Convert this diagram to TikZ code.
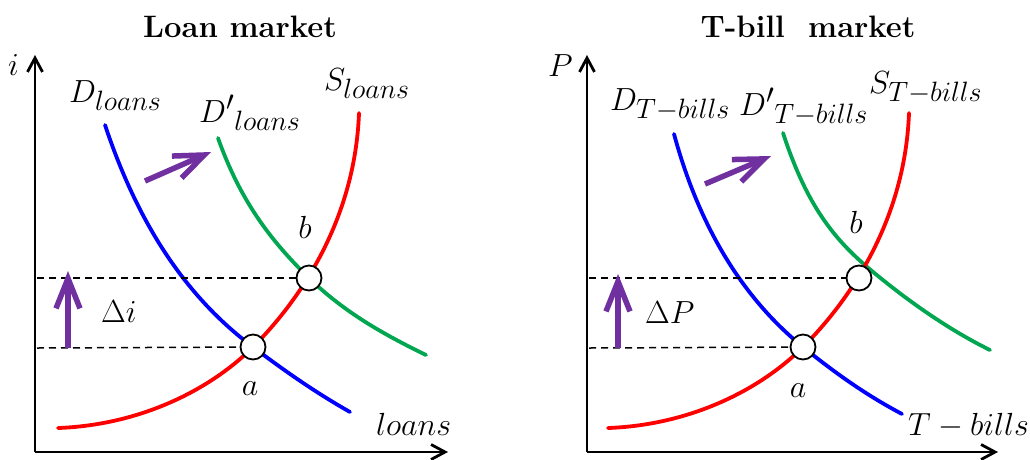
\RequirePackage{fix-cm}
\documentclass[tikz,border=0pt]{standalone}
\usepackage{amsmath}
\usepackage{tikz}
\usetikzlibrary{arrows.meta}

\DeclareMathSizes{32}{32}{28}{22}
\definecolor{shiftpurple}{RGB}{112,48,160}
\definecolor{dgreen}{RGB}{0,166,80}

\begin{document}
\begin{tikzpicture}[
    x=1pt, y=-1pt,
    axis/.style={line width=2.8pt, draw=black,
      -{Straight Barb[length=14pt,width=15pt]}},
    supply/.style={line width=3.8pt, draw=red, line cap=round},
    demand/.style={line width=3.8pt, draw=blue, line cap=round},
    newdemand/.style={line width=3.8pt, draw=dgreen, line cap=round},
    guide/.style={line width=1.5pt, dash pattern=on 7pt off 5pt},
    eq/.style={circle, draw=black, fill=white, line width=1.8pt,
      minimum size=25pt, inner sep=0pt},
    shiftarr/.style={line width=5.5pt, draw=shiftpurple,
      -{Straight Barb[length=30pt,width=24pt]}},
    lbl/.style={font=\fontsize{32}{36}\selectfont, inner sep=0pt},
    heading/.style={font=\fontsize{31}{36}\selectfont\bfseries, inner sep=0pt},
  ]
    \useasboundingbox (0,0) rectangle (1030,459);

    % ---------- loan market ----------
    \node[heading, anchor=base] (title1) at (240,37) {Loan market};
    \coordinate (O1) at (35,452);
    \coordinate (ytip1) at (35,55);
    \coordinate (xtip1) at (448,452);
    \draw[axis] (O1) -- (ytip1);
    \draw[axis] (O1) -- (xtip1);
    \node[lbl, anchor=base west] (ilab) at (8,75) {$i$};
    \node[lbl, anchor=base west] (xlab1) at (376,435) {$loans$};

    \draw[demand] (105,125) .. controls (140,230) and (190,300) .. (253,347)
      .. controls (290,375) and (320,395) .. (350,412);
    \draw[newdemand] (218,138) .. controls (240,200) and (270,240) .. (309,278)
      .. controls (345,313) and (385,335) .. (426,355);
    \draw[supply] (58,428) .. controls (140,425) and (210,390) .. (253,347)
      .. controls (300,300) and (355,220) .. (359,113);

    \node[lbl, anchor=base west] (D1) at (69,102) {$D_{loans}$};
    \node[lbl, anchor=base west] (Dp1) at (199,122) {$D'{}_{loans}$};
    \node[lbl, anchor=base west] (S1) at (324,90) {$S_{loans}$};

    \node[eq] (a1) at (253,347) {};
    \node[eq] (b1) at (309,278) {};
    \coordinate (ya1) at (37,348);
    \coordinate (yb1) at (37,278);
    \draw[guide] (ya1) -- (a1);
    \draw[guide] (yb1) -- (b1);
    \node[lbl, anchor=base] (alab1) at (250,395) {$a$};
    \node[lbl, anchor=base] (blab1) at (305,238) {$b$};

    \coordinate (up1s) at (68,348);
    \coordinate (up1e) at (68,271);
    \draw[shiftarr] (up1s) -- (up1e);
    \node[lbl, anchor=base west] (di) at (101,322) {$\Delta i$};
    \coordinate (sh1s) at (145,181);
    \coordinate (sh1e) at (211,152);
    \draw[shiftarr] (sh1s) -- (sh1e);

    % ---------- T-bill market ----------
    \node[heading, anchor=base] (title2) at (808,37) {T-bill\ \ market};
    \coordinate (O2) at (587,452);
    \coordinate (ytip2) at (587,55);
    \coordinate (xtip2) at (998,452);
    \draw[axis] (O2) -- (ytip2);
    \draw[axis] (O2) -- (xtip2);
    \node[lbl, anchor=base west] (plab) at (548,76) {$P$};
    \node[lbl, anchor=base west] (xlab2) at (908,435) {$T-bills$};

    \draw[demand] (674,134) .. controls (700,230) and (745,300) .. (803,347)
      .. controls (840,377) and (870,397) .. (902,414);
    \draw[newdemand] (783,133) .. controls (805,200) and (830,235) .. (866,266)
      .. controls (900,295) and (945,328) .. (990,350);
    \draw[supply] (608,428) .. controls (690,425) and (760,390) .. (803,347)
      .. controls (850,300) and (905,220) .. (909,113);

    \node[lbl, anchor=base west] (D2) at (610,110) {$D_{T-bills}$};
    \node[lbl, anchor=base west] (Dp2) at (739,115) {$D'{}_{T-bills}$};
    \node[lbl, anchor=base west] (S2) at (869,93) {$S_{T-bills}$};

    \node[eq] (a2) at (803,347) {};
    \node[eq] (b2) at (859,278) {};
    \coordinate (ya2) at (589,348);
    \coordinate (yb2) at (589,278);
    \draw[guide] (ya2) -- (a2);
    \draw[guide] (yb2) -- (b2);
    \node[lbl, anchor=base] (alab2) at (798,397) {$a$};
    \node[lbl, anchor=base] (blab2) at (856,233) {$b$};

    \coordinate (up2s) at (618,348);
    \coordinate (up2e) at (618,274);
    \draw[shiftarr] (up2s) -- (up2e);
    \node[lbl, anchor=base west] (dP) at (645,323) {$\Delta P$};
    \coordinate (sh2s) at (705,184);
    \coordinate (sh2e) at (771,156);
    \draw[shiftarr] (sh2s) -- (sh2e);
\end{tikzpicture}
\end{document}
